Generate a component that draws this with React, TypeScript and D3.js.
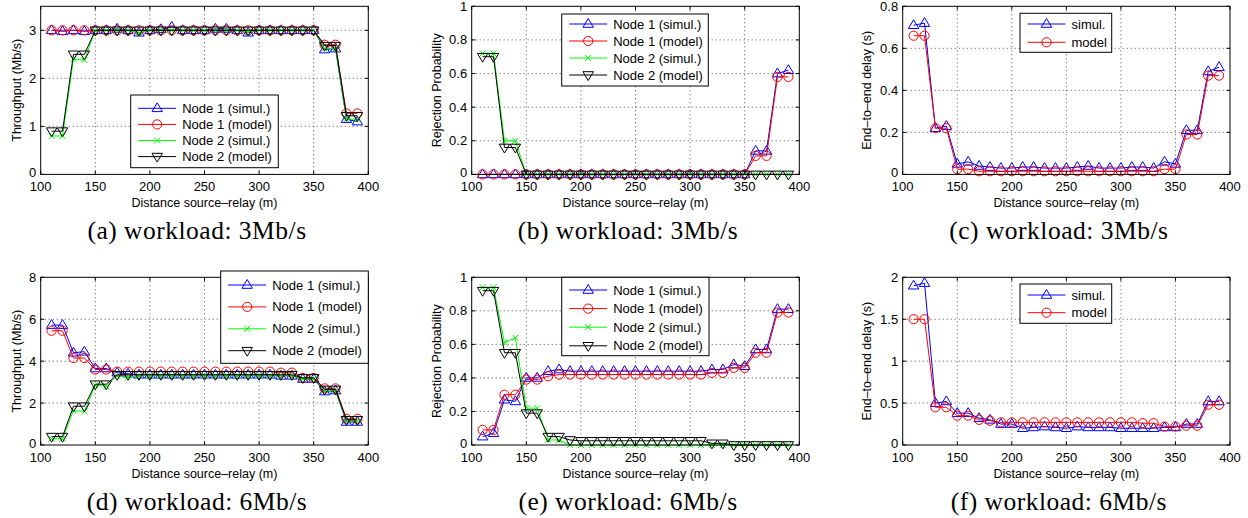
import React from 'react'
import * as d3 from 'd3'

// distance source-relay (m)
const distances = [110, 120, 130, 140, 150, 160, 170, 180, 190, 200, 210, 220, 230, 240, 250,
  260, 270, 280, 290, 300, 310, 320, 330, 340, 350, 360, 370, 380, 390]

// (a) throughput, workload 3Mb/s
const thr3Node1Sim = [3.0, 2.98, 3.0, 2.98, 3.0, 3.0, 3.03, 3.0, 2.95, 3.0, 3.02, 3.07, 3.0, 3.0, 3.0,
  3.03, 3.03, 3.0, 2.95, 3.0, 3.0, 3.0, 3.0, 3.0, 3.0, 2.6, 2.62, 1.15, 1.1]
const thr3Node1Mod = [3.0, 3.0, 3.0, 3.0, 3.0, 3.0, 3.0, 3.0, 3.0, 3.0, 3.0, 3.0, 3.0, 3.0, 3.0,
  3.0, 3.0, 3.0, 3.0, 3.0, 3.0, 3.0, 3.0, 3.0, 3.0, 2.7, 2.7, 1.27, 1.27]
const thr3Node2Sim = [0.8, 0.8, 2.4, 2.38, 3.0, 3.0, 3.0, 3.0, 2.95, 3.0, 3.0, 3.0, 3.0, 3.0, 3.0,
  3.0, 3.0, 3.0, 2.97, 3.0, 3.0, 3.0, 3.0, 3.0, 3.0, 2.62, 2.62, 1.15, 1.15]
const thr3Node2Mod = [0.9, 0.9, 2.5, 2.5, 3.0, 3.0, 3.0, 3.0, 3.0, 3.0, 3.0, 3.0, 3.0, 3.0, 3.0,
  3.0, 3.0, 3.0, 3.0, 3.0, 3.0, 3.0, 3.0, 3.0, 3.0, 2.68, 2.68, 1.22, 1.22]

// (b) rejection probability, workload 3Mb/s
const rej3Node1Sim = [0, 0, 0, 0, 0, 0, 0, 0, 0, 0, 0, 0, 0, 0, 0,
  0, 0, 0, 0, 0, 0, 0, 0, 0, 0, 0.14, 0.14, 0.6, 0.62]
const rej3Node1Mod = [0, 0, 0, 0, 0, 0, 0, 0, 0, 0, 0, 0, 0, 0, 0,
  0, 0, 0, 0, 0, 0, 0, 0, 0, 0, 0.11, 0.11, 0.58, 0.58]
const rej3Node2Sim = [0.72, 0.72, 0.2, 0.2, 0, 0, 0, 0, 0, 0, 0, 0, 0, 0, 0,
  0, 0, 0, 0, 0, 0, 0, 0, 0, 0, 0, 0, 0, 0]
const rej3Node2Mod = [0.7, 0.7, 0.16, 0.16, 0, 0, 0, 0, 0, 0, 0, 0, 0, 0, 0,
  0, 0, 0, 0, 0, 0, 0, 0, 0, 0, 0, 0, 0, 0]

// (c) end-to-end delay, workload 3Mb/s
const del3Sim = [0.71, 0.72, 0.22, 0.23, 0.05, 0.06, 0.04, 0.035, 0.03, 0.03, 0.035, 0.035, 0.03, 0.03, 0.03,
  0.035, 0.04, 0.03, 0.03, 0.03, 0.035, 0.035, 0.03, 0.06, 0.05, 0.21, 0.21, 0.49, 0.51]
const del3Mod = [0.66, 0.66, 0.22, 0.22, 0.025, 0.025, 0.015, 0.015, 0.015, 0.015, 0.015, 0.015, 0.015, 0.015, 0.015,
  0.015, 0.015, 0.015, 0.015, 0.015, 0.015, 0.015, 0.015, 0.025, 0.025, 0.19, 0.19, 0.47, 0.47]

// (d) throughput, workload 6Mb/s
const thr6Node1Sim = [5.72, 5.72, 4.4, 4.45, 3.65, 3.65, 3.45, 3.4, 3.35, 3.35, 3.35, 3.35, 3.35, 3.35, 3.35,
  3.35, 3.35, 3.35, 3.35, 3.35, 3.35, 3.3, 3.3, 3.15, 3.15, 2.55, 2.6, 1.1, 1.1]
const thr6Node1Mod = [5.45, 5.45, 4.15, 4.15, 3.6, 3.6, 3.5, 3.5, 3.5, 3.5, 3.5, 3.5, 3.5, 3.5, 3.5,
  3.5, 3.5, 3.5, 3.5, 3.5, 3.5, 3.45, 3.45, 3.2, 3.2, 2.7, 2.7, 1.25, 1.25]
const thr6Node2Sim = [0.3, 0.3, 1.65, 1.6, 2.85, 2.8, 3.3, 3.25, 3.3, 3.3, 3.3, 3.3, 3.3, 3.3, 3.3,
  3.3, 3.3, 3.3, 3.3, 3.3, 3.3, 3.3, 3.3, 3.15, 3.15, 2.6, 2.6, 1.15, 1.15]
const thr6Node2Mod = [0.4, 0.4, 1.85, 1.85, 2.9, 2.9, 3.35, 3.35, 3.35, 3.35, 3.35, 3.35, 3.35, 3.35, 3.35,
  3.35, 3.35, 3.35, 3.35, 3.35, 3.35, 3.35, 3.35, 3.2, 3.2, 2.65, 2.65, 1.2, 1.2]

// (e) rejection probability, workload 6Mb/s
const rej6Node1Sim = [0.05, 0.07, 0.27, 0.26, 0.4, 0.4, 0.44, 0.45, 0.44, 0.44, 0.44, 0.44, 0.44, 0.44, 0.44,
  0.44, 0.44, 0.44, 0.44, 0.44, 0.44, 0.45, 0.45, 0.48, 0.47, 0.57, 0.57, 0.81, 0.81]
const rej6Node1Mod = [0.09, 0.09, 0.3, 0.3, 0.39, 0.39, 0.41, 0.42, 0.42, 0.42, 0.42, 0.42, 0.42, 0.42, 0.42,
  0.42, 0.42, 0.42, 0.42, 0.42, 0.42, 0.43, 0.43, 0.46, 0.46, 0.55, 0.55, 0.79, 0.79]
const rej6Node2Sim = [0.94, 0.94, 0.61, 0.64, 0.22, 0.22, 0.03, 0.03, 0, 0, 0, 0, 0, 0, 0,
  0, 0, 0, 0, 0, 0, 0, 0, 0, 0, 0, 0, 0, 0]
const rej6Node2Mod = [0.92, 0.92, 0.55, 0.55, 0.19, 0.19, 0.05, 0.05, 0.03, 0.025, 0.025, 0.025, 0.025, 0.025, 0.025,
  0.025, 0.025, 0.025, 0.025, 0.025, 0.025, 0.01, 0.01, 0, 0, 0, 0, 0, 0]

// (f) end-to-end delay, workload 6Mb/s
const del6Sim = [1.9, 1.93, 0.5, 0.52, 0.38, 0.38, 0.32, 0.3, 0.25, 0.25, 0.2, 0.21, 0.22, 0.21, 0.2,
  0.22, 0.21, 0.21, 0.21, 0.2, 0.2, 0.2, 0.2, 0.21, 0.21, 0.25, 0.25, 0.52, 0.52]
const del6Mod = [1.5, 1.5, 0.45, 0.45, 0.35, 0.35, 0.3, 0.29, 0.27, 0.27, 0.27, 0.27, 0.27, 0.27, 0.27,
  0.27, 0.27, 0.27, 0.27, 0.27, 0.27, 0.26, 0.26, 0.22, 0.22, 0.23, 0.23, 0.48, 0.48]

const xTicks = [100, 150, 200, 250, 300, 350, 400]
const thr3Ticks = [0, 1, 2, 3]
const rejTicks = [0, 0.2, 0.4, 0.6, 0.8, 1]
const del3Ticks = [0, 0.2, 0.4, 0.6, 0.8]
const thr6Ticks = [0, 2, 4, 6, 8]
const del6Ticks = [0, 0.5, 1, 1.5, 2]

const nodeNames = ['Node 1 (simul.)', 'Node 1 (model)', 'Node 2 (simul.)', 'Node 2 (model)']
const delayNames = ['simul.', 'model']

type Marker = 'up' | 'down' | 'circle' | 'x'
const styles: { color: string; marker: Marker }[] = [
  { color: '#0000ff', marker: 'up' },
  { color: '#ff0000', marker: 'circle' },
  { color: '#00ff00', marker: 'x' },
  { color: '#000000', marker: 'down' }
]

const SANS = '"Liberation Sans", Arial, Helvetica, sans-serif'
const SERIF = '"Liberation Serif", "Times New Roman", serif'

function MarkerShape({ kind, cx, cy, color }: { kind: Marker; cx: number; cy: number; color: string }) {
  const s = 5.5
  if (kind === 'circle') {
    return <circle cx={cx} cy={cy} r={4.6} fill="none" stroke={color} strokeWidth={1} />
  }
  if (kind === 'x') {
    const h = 3
    return (
      <path d={`M${cx - h},${cy - h}L${cx + h},${cy + h}M${cx - h},${cy + h}L${cx + h},${cy - h}`}
        stroke={color} strokeWidth={1} fill="none" />
    )
  }
  const dir = kind === 'up' ? 1 : -1
  const d = `M${cx},${cy - dir * s}L${cx + s * 0.95},${cy + dir * s * 0.6}L${cx - s * 0.95},${cy + dir * s * 0.6}Z`
  return <path d={d} fill="none" stroke={color} strokeWidth={1} />
}

interface Box { left: number; top: number; right: number; bottom: number }
interface LegendBox { x: number; y: number; w: number; h: number; first: number; gap: number }

interface PanelProps {
  box: Box
  yMax: number
  yTicks: number[]
  yLabel: string
  yLabelX: number
  series: number[][]
  names: string[]
  legend: LegendBox
  caption: string
  captionY: number
}

function Panel({ box, yMax, yTicks, yLabel, yLabelX, series, names, legend, caption, captionY }: PanelProps) {
  const x = d3.scaleLinear().domain([100, 400]).range([box.left, box.right])
  const y = d3.scaleLinear().domain([0, yMax]).range([box.bottom, box.top])
  const line = d3.line<number>().x((_, i) => x(distances[i])).y(v => y(v))
  const tl = 3.5
  const midX = (box.left + box.right) / 2

  return (
    <g>
      {/* grid */}
      {xTicks.filter(t => t > 100 && t < 400).map(t => (
        <line key={'gx' + t} x1={x(t)} x2={x(t)} y1={box.top} y2={box.bottom}
          stroke="#000" strokeWidth={0.7} strokeDasharray="1,3" />
      ))}
      {yTicks.filter(t => t > 0 && y(t) > box.top + 1).map(t => (
        <line key={'gy' + t} x1={box.left} x2={box.right} y1={y(t)} y2={y(t)}
          stroke="#000" strokeWidth={0.7} strokeDasharray="1,3" />
      ))}
      {/* data */}
      {series.map((vals, si) => (
        <g key={'s' + si}>
          <path d={line(vals) || ''} fill="none" stroke={styles[si].color} strokeWidth={1} />
          {vals.map((v, i) => (
            <MarkerShape key={i} kind={styles[si].marker} cx={x(distances[i])} cy={y(v)} color={styles[si].color} />
          ))}
        </g>
      ))}
      {/* axes box and ticks */}
      <rect x={box.left} y={box.top} width={box.right - box.left} height={box.bottom - box.top}
        fill="none" stroke="#000" strokeWidth={1} />
      {xTicks.map(t => (
        <g key={'tx' + t}>
          <line x1={x(t)} x2={x(t)} y1={box.bottom} y2={box.bottom - tl} stroke="#000" />
          <line x1={x(t)} x2={x(t)} y1={box.top} y2={box.top + tl} stroke="#000" />
          <text x={x(t)} y={box.bottom + 16.5} textAnchor="middle" fontSize={13} fontFamily={SANS}>{t}</text>
        </g>
      ))}
      {yTicks.map(t => (
        <g key={'ty' + t}>
          <line x1={box.left} x2={box.left + tl} y1={y(t)} y2={y(t)} stroke="#000" />
          <line x1={box.right} x2={box.right - tl} y1={y(t)} y2={y(t)} stroke="#000" />
          <text x={box.left - 4.5} y={y(t) + (t === 0 ? 3 : 4.5)} textAnchor="end" fontSize={13}
            fontFamily={SANS}>{String(t)}</text>
        </g>
      ))}
      <text x={midX} y={box.bottom + 33} textAnchor="middle" fontSize={12.5}
        fontFamily={SANS}>Distance source–relay (m)</text>
      <text transform={`translate(${yLabelX},${(box.top + box.bottom) / 2}) rotate(-90)`} textAnchor="middle"
        dy="0.35em" fontSize={12.5} fontFamily={SANS}>{yLabel}</text>
      {/* legend */}
      <rect x={legend.x} y={legend.y} width={legend.w} height={legend.h} fill="#fff" stroke="#000" strokeWidth={1} />
      {names.map((name, i) => {
        const ry = legend.y + legend.first + i * legend.gap
        const lx = legend.x + 7.5
        return (
          <g key={'l' + i}>
            <line x1={lx} x2={lx + 38} y1={ry} y2={ry} stroke={styles[i].color} strokeWidth={1} />
            <MarkerShape kind={styles[i].marker} cx={lx + 19} cy={ry} color={styles[i].color} />
            <text x={lx + 44} y={ry + 4.5} fontSize={13} fontFamily={SANS}>{name}</text>
          </g>
        )
      })}
      <text x={midX - 7.5} y={captionY} textAnchor="middle" fontSize={25.5} letterSpacing={0.5}
        fontFamily={SERIF}>{caption}</text>
    </g>
  )
}

export default function App() {
  const colL = { left: 40.7, right: 368.3 }
  const colM = { left: 471.7, right: 799.3 }
  const colR = { left: 902.7, right: 1230 }
  const top = { top: 6.3, bottom: 174.4 }
  const bot = { top: 277.3, bottom: 445 }

  return (
    <svg width={1248} height={518} style={{ position: 'absolute', left: 0, top: 0, background: '#fff' }}>
      <rect width={1248} height={518} fill="#fff" />
      <Panel box={{ ...colL, ...top }} yMax={3.5} yTicks={thr3Ticks} yLabel="Throughput (Mb/s)" yLabelX={17}
        series={[thr3Node1Sim, thr3Node1Mod, thr3Node2Sim, thr3Node2Mod]} names={nodeNames}
        legend={{ x: 130.7, y: 95, w: 147.6, h: 72.7, first: 13.3, gap: 16.1 }}
        caption="(a) workload: 3Mb/s" captionY={238.5} />
      <Panel box={{ ...colM, ...top }} yMax={1} yTicks={rejTicks} yLabel="Rejection Probability" yLabelX={436.7}
        series={[rej3Node1Sim, rej3Node1Mod, rej3Node2Sim, rej3Node2Mod]} names={nodeNames}
        legend={{ x: 561.7, y: 14, w: 146.6, h: 72, first: 10, gap: 17 }}
        caption="(b) workload: 3Mb/s" captionY={238.5} />
      <Panel box={{ ...colR, ...top }} yMax={0.8} yTicks={del3Ticks} yLabel="End–to–end delay (s)" yLabelX={866.7}
        series={[del3Sim, del3Mod]} names={delayNames}
        legend={{ x: 1020, y: 13.3, w: 91.7, h: 39, first: 10.7, gap: 18.3 }}
        caption="(c) workload: 3Mb/s" captionY={238.5} />
      <Panel box={{ ...colL, ...bot }} yMax={8} yTicks={thr6Ticks} yLabel="Throughput (Mb/s)" yLabelX={17}
        series={[thr6Node1Sim, thr6Node1Mod, thr6Node2Sim, thr6Node2Mod]} names={nodeNames}
        legend={{ x: 220.7, y: 271, w: 147.6, h: 92.3, first: 14, gap: 21.9 }}
        caption="(d) workload: 6Mb/s" captionY={510} />
      <Panel box={{ ...colM, ...bot }} yMax={1} yTicks={rejTicks} yLabel="Rejection Probability" yLabelX={436.7}
        series={[rej6Node1Sim, rej6Node1Mod, rej6Node2Sim, rej6Node2Mod]} names={nodeNames}
        legend={{ x: 561.7, y: 277.3, w: 147.3, h: 78.4, first: 12.7, gap: 18.6 }}
        caption="(e) workload: 6Mb/s" captionY={510} />
      <Panel box={{ ...colR, ...bot }} yMax={2} yTicks={del6Ticks} yLabel="End–to–end delay (s)" yLabelX={866.7}
        series={[del6Sim, del6Mod]} names={delayNames}
        legend={{ x: 1020, y: 284, w: 91.7, h: 39.3, first: 11, gap: 17.7 }}
        caption="(f) workload: 6Mb/s" captionY={510} />
    </svg>
  )
}
